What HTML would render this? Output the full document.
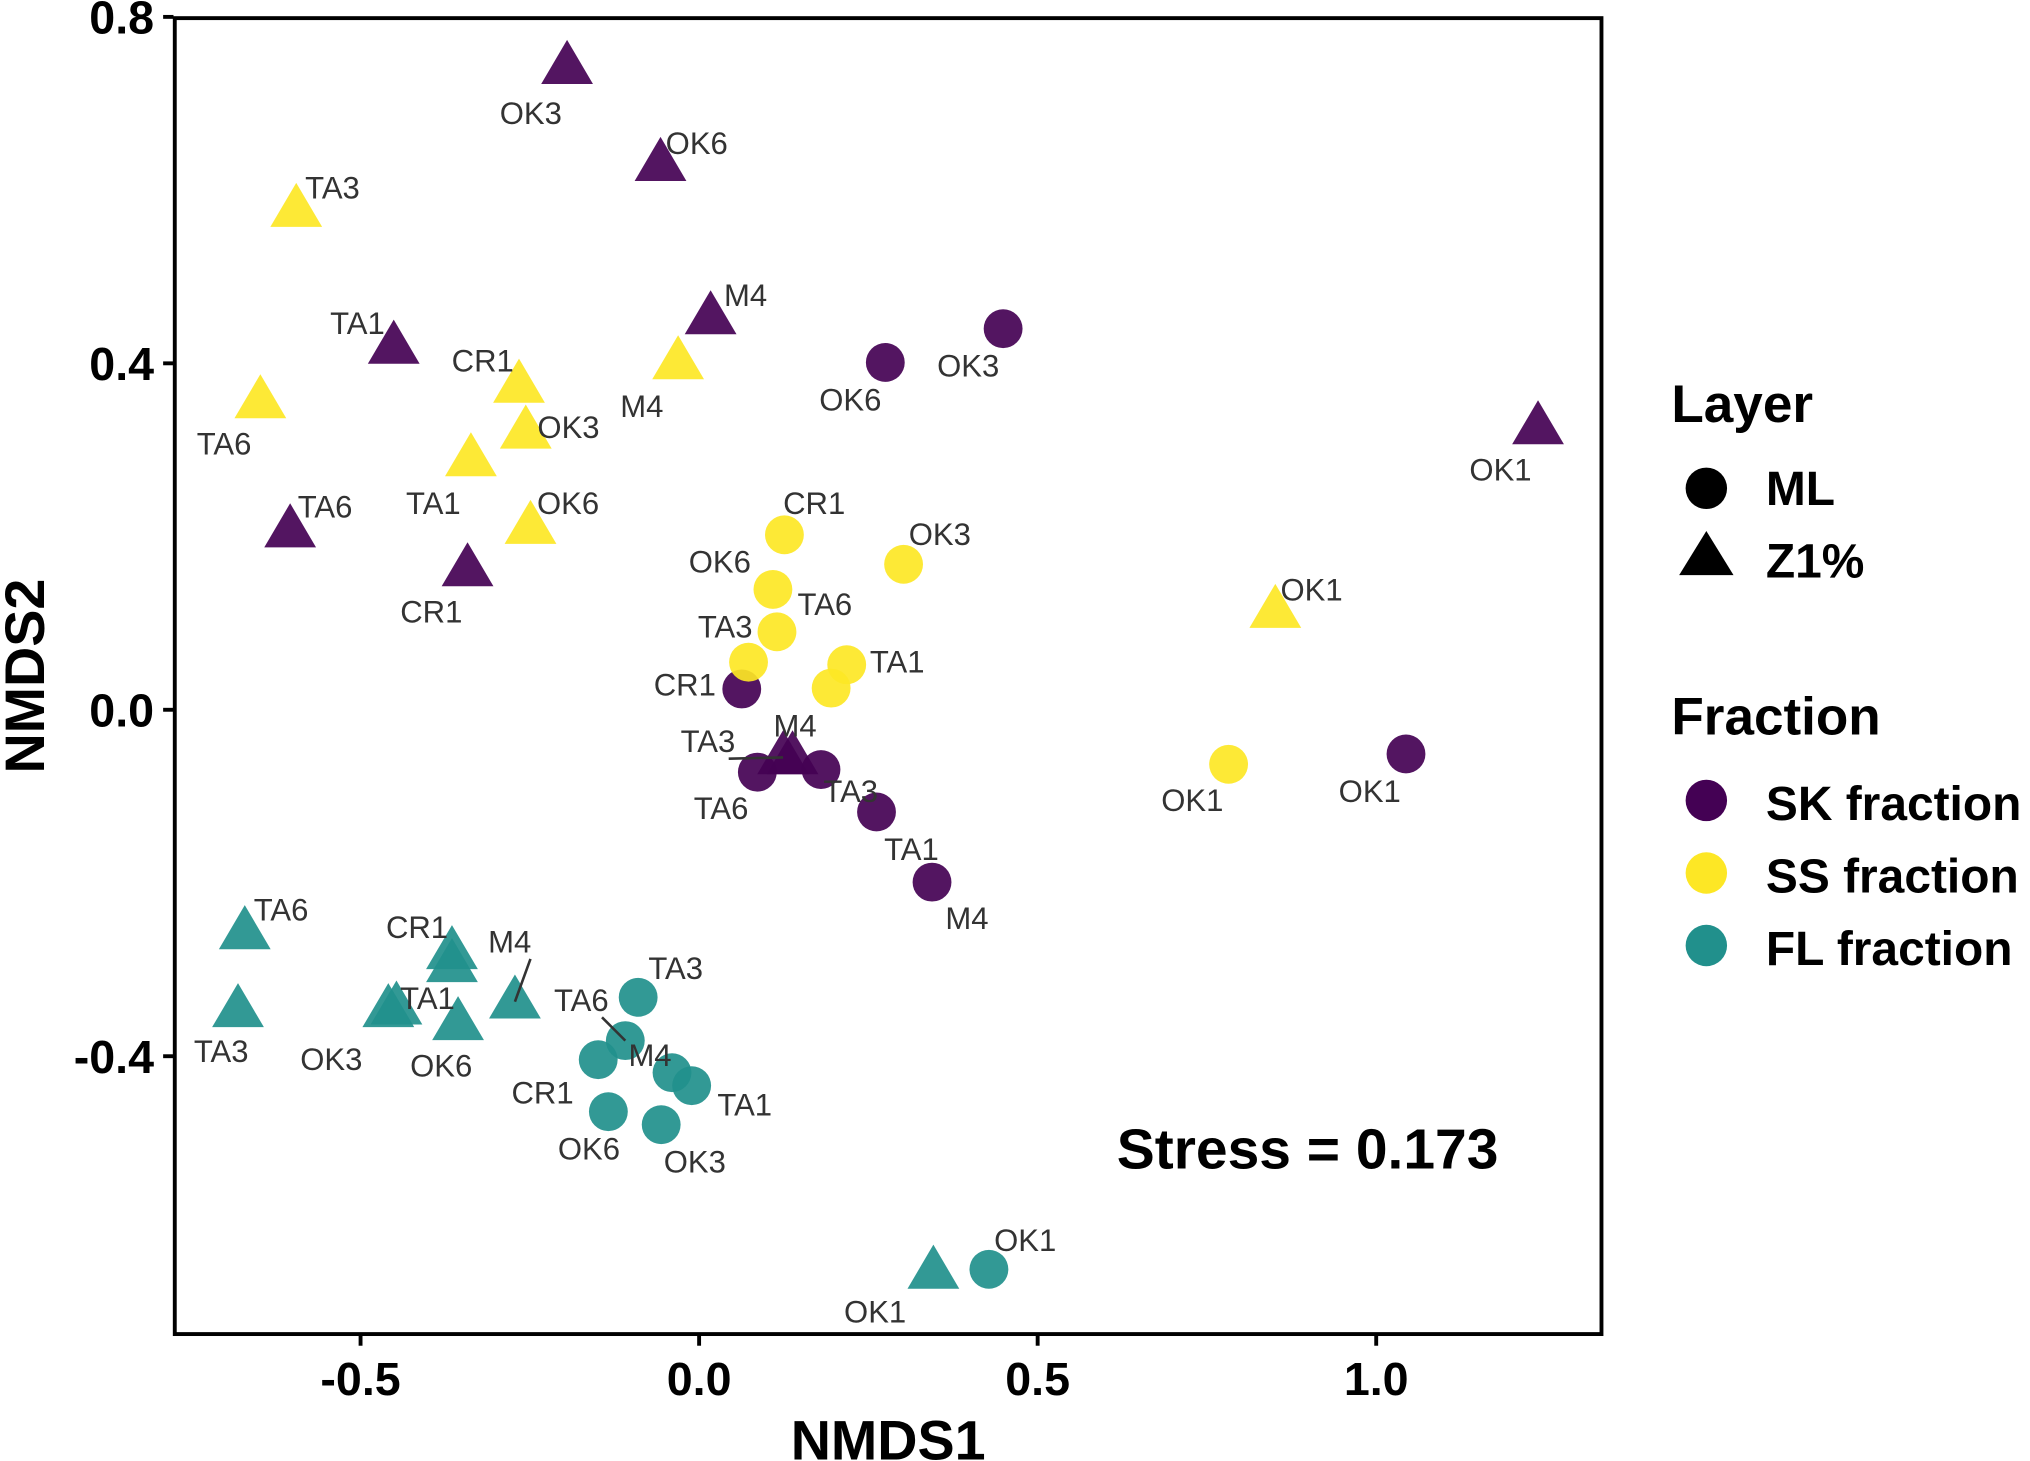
<!DOCTYPE html>
<html><head><meta charset="utf-8"><style>
html,body{margin:0;padding:0;background:#fff;}
svg{display:block;}
text{font-family:"Liberation Sans",Arial,sans-serif;}
</style></head><body>
<svg id="chart" width="2030" height="1461" viewBox="0 0 1568 1128" preserveAspectRatio="none" xmlns="http://www.w3.org/2000/svg">
<rect x="0" y="0" width="1568" height="1128" fill="#fff"/>
<g id="marks"></g>
<rect x="135" y="14" width="1102" height="1016" fill="none" stroke="#000" stroke-width="3"/>
<g id="axes"></g>
<text x="1010" y="902" text-anchor="middle" font-size="44" font-weight="bold">Stress = 0.173</text>
<text x="686" y="1127" text-anchor="middle" font-size="43" font-weight="bold">NMDS1</text>
<text x="0" y="0" transform="translate(34,522) rotate(-90)" text-anchor="middle" font-size="43" font-weight="bold">NMDS2</text>
<g>
<text x="1291" y="326" font-size="41" font-weight="bold">Layer</text>
<circle cx="1318" cy="377" r="16" fill="#000"/>
<text x="1364" y="390" font-size="37" font-weight="bold">ML</text>
<polygon points="1318,410 1339,444 1297,444" fill="#000"/>
<text x="1364" y="446" font-size="37" font-weight="bold">Z1%</text>
<text x="1291" y="567" font-size="41" font-weight="bold">Fraction</text>
<circle cx="1318" cy="618" r="16" fill="#440154"/>
<text x="1364" y="633" font-size="37" font-weight="bold">SK fraction</text>
<circle cx="1318" cy="674" r="16" fill="#FDE725"/>
<text x="1364" y="689" font-size="37" font-weight="bold">SS fraction</text>
<circle cx="1318" cy="730" r="16" fill="#21908C"/>
<text x="1364" y="745" font-size="37" font-weight="bold">FL fraction</text>
</g>
</svg>
<script>
const xTicks=[-0.5,0.0,0.5,1.0];
const xTickLabels=["-0.5","0.0","0.5","1.0"];
const yTicks=[-0.4,0.0,0.4,0.8];
const yTickLabels=["-0.4","0.0","0.4","0.8"];
const sampleNames=["OK3","OK6","TA1","M4","TA6","CR1","M4","TA3","OK1",
 "OK3","OK6","CR1","TA6","TA3","TA1","M4","OK1",
 "TA3","TA6","CR1","M4","OK3","TA1","OK6","OK1",
 "CR1","OK3","OK6","TA6","TA3","TA1","","OK1",
 "TA6","TA3","CR1","","TA1","OK3","OK6","M4","OK1",
 "TA3","TA6","CR1","M4","TA1","OK6","OK3","OK1"];
const fractions=["SK","SK","SK","SK","SK","SK","SK","SK","SK",
 "SK","SK","SK","SK","SK","SK","SK","SK",
 "SS","SS","SS","SS","SS","SS","SS","SS",
 "SS","SS","SS","SS","SS","SS","SS","SS",
 "FL","FL","FL","FL","FL","FL","FL","FL","FL",
 "FL","FL","FL","FL","FL","FL","FL","FL"];
const layers=["Z","Z","Z","Z","Z","Z","Z","Z","Z",
 "ML","ML","ML","ML","ML","ML","ML","ML",
 "Z","Z","Z","Z","Z","Z","Z","Z",
 "ML","ML","ML","ML","ML","ML","ML","ML",
 "Z","Z","Z","Z","Z","Z","Z","Z","Z",
 "ML","ML","ML","ML","ML","ML","ML","ML"];
const nmds1=[-0.195,-0.057,-0.451,0.017,-0.604,-0.342,0.138,0.124,1.239,
 0.449,0.275,0.063,0.086,0.180,0.262,0.344,1.044,
 -0.595,-0.648,-0.266,-0.031,-0.256,-0.337,-0.249,0.851,
 0.126,0.302,0.109,0.115,0.073,0.218,0.195,0.782,
 -0.671,-0.681,-0.365,-0.365,-0.447,-0.459,-0.356,-0.272,0.346,
 -0.090,-0.109,-0.149,-0.040,-0.011,-0.134,-0.056,0.428];
const nmds2=[0.742,0.630,0.419,0.453,0.207,0.162,-0.055,-0.055,0.326,
 0.440,0.401,0.024,-0.072,-0.069,-0.118,-0.199,-0.051,
 0.577,0.356,0.374,0.401,0.321,0.289,0.211,0.114,
 0.202,0.168,0.139,0.090,0.055,0.052,0.025,-0.063,
 -0.257,-0.347,-0.280,-0.295,-0.344,-0.347,-0.362,-0.337,-0.649,
 -0.332,-0.382,-0.404,-0.419,-0.434,-0.464,-0.479,-0.646];
// label offsets (px, style only)
const labelDx=[-28,28,-28,27,27,-28,2,-58,-29, -27,-27,-44,-28,23,27,27,-28, 28,-28,-28,-28,33,-29,29,28, 23,28,-41,37,-18,39,0,-28, 28,-13,-27,0,24,-44,-13,-4,-45, 29,-34,-43,-17,41,-15,26,28];
const labelDy=[35,-17,-19,-18,-19,32,-25,-13,32, 28,28,-4,27,16,28,27,28, -18,32,-20,33,-4,33,-19,-17, -25,-24,-22,-22,-28,-3,0,27, -18,31,-20,0,-8,37,32,-47,30, -23,-32,25,-14,14,28,28,-23];
const labelLine=[0,0,0,0,0,0,0,1,0, 0,0,0,0,0,0,0,0, 0,0,0,0,0,0,0,0, 0,0,0,0,0,0,0,0, 0,0,0,0,0,0,0,1,0, 0,1,0,0,0,0,0,0];
const colors={SK:"#440154",SS:"#FDE725",FL:"#21908C"};
const X0=540, XS=523, Y0=548, YS=668.7;
function xs(v){return X0+v*XS;}
function ys(v){return Y0-v*YS;}
const NS="http://www.w3.org/2000/svg";
const marks=document.getElementById('marks');
const axes=document.getElementById('axes');
function mk(tag,attrs,parent){const e=document.createElementNS(NS,tag);for(const k in attrs)e.setAttribute(k,attrs[k]);parent.appendChild(e);return e;}
xTicks.forEach((t,i)=>{
 const l=mk('line',{x1:xs(t),x2:xs(t),y1:1031,y2:1039,stroke:'#000','stroke-width':3},axes);
 
 
 const tx=mk('text',{x:xs(t),y:1077,'text-anchor':'middle','font-size':36,'font-weight':'bold'},axes);
 tx.textContent=xTickLabels[i];
 
 
});
yTicks.forEach((t,i)=>{
 const l=mk('line',{x1:126,x2:134,y1:ys(t),y2:ys(t),stroke:'#000','stroke-width':3},axes);
 
 
 const tx=mk('text',{x:119,y:ys(t)+13,'text-anchor':'end','font-size':36,'font-weight':'bold'},axes);
 tx.textContent=yTickLabels[i];
 
 
});
nmds1.forEach((v,i)=>{
 const cx=xs(v), cy=ys(nmds2[i]), c=colors[fractions[i]];
 let m;
 if(layers[i]==="ML"){
  m=mk('circle',{cx:cx,cy:cy,r:15,fill:c,'fill-opacity':0.92},marks);
 } else {
  m=mk('polygon',{points:`${cx},${cy-21} ${cx+20},${cy+13} ${cx-20},${cy+13}`,fill:c,'fill-opacity':0.92},marks);
 }
 
 
});
nmds1.forEach((v,i)=>{
 if(!sampleNames[i])return;
 const cx=xs(v), cy=ys(nmds2[i]);
 const lx=cx+labelDx[i], ly=cy+labelDy[i];
 if(labelLine[i]){
  const ln=mk('line',{x1:lx+(labelDx[i]<0?16:0),y1:ly+(labelDy[i]<0?14:-2),x2:cx,y2:cy,stroke:'#333','stroke-width':2},marks);
  
  
 }
 const t=mk('text',{x:lx,y:ly+9,'text-anchor':'middle','font-size':24,fill:'#333'},marks);
 t.textContent=sampleNames[i];
 
 
});
</script>
</body></html>
